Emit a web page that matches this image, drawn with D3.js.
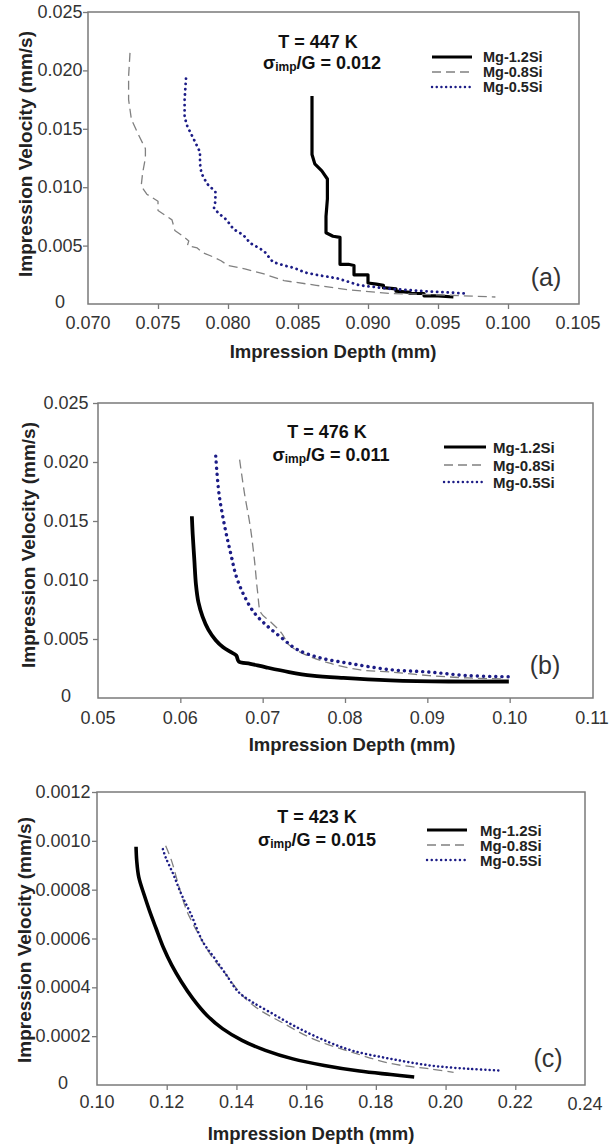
<!DOCTYPE html>
<html><head><meta charset="utf-8">
<script src="https://cdn.jsdelivr.net/npm/d3@7"></script>
<style>
html,body{margin:0;padding:0;background:#fff;}
text{font-family:"Liberation Sans",Arial,sans-serif;}
</style></head>
<body><svg id="chart" width="613" height="1144"></svg>
<script>
// ---------- DATA ----------
const seriesNames = ["Mg-1.2Si", "Mg-0.8Si", "Mg-0.5Si"];

// Panel (a) T = 447 K
const aXTicks = [0.070, 0.075, 0.080, 0.085, 0.090, 0.095, 0.100, 0.105];
const aXTickLabels = ["0.070", "0.075", "0.080", "0.085", "0.090", "0.095", "0.100", "0.105"];
const aYTicks = [0, 0.005, 0.010, 0.015, 0.020, 0.025];
const aYTickLabels = ["0", "0.005", "0.010", "0.015", "0.020", "0.025"];
const aMg12 = [[0.0860,0.0178],[0.0860,0.0150],[0.0860,0.0128],[0.0862,0.0120],[0.0867,0.0114],[0.0871,0.0107],[0.0871,0.0090],[0.0870,0.0075],[0.0870,0.0061],[0.0875,0.0058],[0.0880,0.0057],[0.0880,0.0045],[0.0880,0.0034],[0.0886,0.0034],[0.0890,0.0033],[0.0890,0.0025],[0.0895,0.0025],[0.0900,0.0025],[0.0900,0.0018],[0.0906,0.0017],[0.0911,0.0016],[0.0911,0.0014],[0.0920,0.0013],[0.0920,0.0011],[0.0930,0.0010],[0.0930,0.0009],[0.0940,0.0009],[0.0940,0.0007],[0.0950,0.0007],[0.0961,0.0006]];
const aMg08 = [[0.0730,0.0215],[0.0729,0.0195],[0.0729,0.0175],[0.0731,0.0158],[0.0736,0.0145],[0.0741,0.0133],[0.0741,0.0125],[0.0739,0.0112],[0.0738,0.0101],[0.0742,0.0094],[0.0750,0.0088],[0.0750,0.0080],[0.0755,0.0076],[0.0760,0.0072],[0.0762,0.0063],[0.0768,0.0058],[0.0772,0.0054],[0.0771,0.0050],[0.0778,0.0048],[0.0782,0.0044],[0.0790,0.0040],[0.0795,0.0037],[0.0800,0.0033],[0.0812,0.0030],[0.0825,0.0026],[0.0840,0.0020],[0.0863,0.0016],[0.0887,0.0012],[0.0916,0.0009],[0.0947,0.0008],[0.0991,0.0006]];
const aMg05 = [[0.0770,0.0193],[0.0769,0.0175],[0.0769,0.0160],[0.0771,0.0152],[0.0776,0.0140],[0.0780,0.0130],[0.0780,0.0120],[0.0781,0.0112],[0.0785,0.0103],[0.0791,0.0096],[0.0791,0.0088],[0.0790,0.0082],[0.0793,0.0078],[0.0799,0.0072],[0.0804,0.0064],[0.0811,0.0059],[0.0816,0.0052],[0.0822,0.0048],[0.0826,0.0045],[0.0832,0.0036],[0.0840,0.0033],[0.0847,0.0031],[0.0855,0.0027],[0.0863,0.0025],[0.0878,0.0022],[0.0894,0.0016],[0.0916,0.0013],[0.0940,0.0011],[0.0970,0.0009]];

// Panel (b) T = 476 K
const bXTicks = [0.05, 0.06, 0.07, 0.08, 0.09, 0.10, 0.11];
const bXTickLabels = ["0.05", "0.06", "0.07", "0.08", "0.09", "0.10", "0.11"];
const bYTicks = [0, 0.005, 0.010, 0.015, 0.020, 0.025];
const bYTickLabels = ["0", "0.005", "0.010", "0.015", "0.020", "0.025"];
const bMg12 = [[0.0614,0.0154],[0.0615,0.0139],[0.0617,0.0117],[0.0619,0.0096],[0.0622,0.0081],[0.0627,0.0069],[0.0634,0.0058],[0.0643,0.0049],[0.0652,0.0043],[0.0661,0.0039],[0.0668,0.0036],[0.0671,0.0031],[0.0685,0.0029],[0.0704,0.0026],[0.0732,0.0022],[0.0760,0.0019],[0.0798,0.0017],[0.0855,0.0015],[0.0926,0.0014],[0.0999,0.0014]];
const bMg08 = [[0.0672,0.0202],[0.0678,0.0173],[0.0685,0.0145],[0.0690,0.0117],[0.0694,0.0089],[0.0698,0.0072],[0.0709,0.0065],[0.0723,0.0055],[0.0732,0.0045],[0.0751,0.0037],[0.0779,0.0030],[0.0817,0.0024],[0.0855,0.0022],[0.0902,0.0019],[0.0949,0.0017],[0.0996,0.0016]];
const bMg05 = [[0.0643,0.0205],[0.0647,0.0173],[0.0654,0.0145],[0.0661,0.0123],[0.0668,0.0103],[0.0678,0.0086],[0.0690,0.0072],[0.0704,0.0062],[0.0723,0.0051],[0.0742,0.0041],[0.0770,0.0034],[0.0808,0.0029],[0.0855,0.0024],[0.0902,0.0022],[0.0949,0.0019],[0.1001,0.0018]];

// Panel (c) T = 423 K
const cXTicks = [0.10, 0.12, 0.14, 0.16, 0.18, 0.20, 0.22, 0.24];
const cXTickLabels = ["0.10", "0.12", "0.14", "0.16", "0.18", "0.20", "0.22", "0.24"];
const cYTicks = [0, 0.0002, 0.0004, 0.0006, 0.0008, 0.0010, 0.0012];
const cYTickLabels = ["0", "0.0002", "0.0004", "0.0006", "0.0008", "0.0010", "0.0012"];
const cMg12 = [[0.1112,0.000976],[0.1114,0.000918],[0.1120,0.00085],[0.1135,0.00078],[0.1151,0.000712],[0.1169,0.000643],[0.1191,0.000561],[0.1214,0.000492],[0.1242,0.000423],[0.1275,0.000354],[0.1315,0.000286],[0.1360,0.000231],[0.1416,0.000183],[0.1483,0.000142],[0.1562,0.000107],[0.1652,0.00008],[0.1753,0.000057],[0.1843,0.000043],[0.1910,0.000033]];
const cMg08 = [[0.1197,0.00098],[0.1214,0.000918],[0.1236,0.000808],[0.1258,0.000712],[0.1292,0.000616],[0.1326,0.000533],[0.1371,0.000451],[0.1416,0.000368],[0.1461,0.000313],[0.1528,0.000258],[0.1618,0.00019],[0.1730,0.000135],[0.1843,0.000088],[0.1955,0.000066],[0.2023,0.000052]];
const cMg05 = [[0.1189,0.000966],[0.1197,0.000932],[0.1219,0.000863],[0.1242,0.000781],[0.1270,0.000698],[0.1303,0.000588],[0.1337,0.00052],[0.1371,0.000451],[0.1405,0.000382],[0.1444,0.000341],[0.1494,0.0003],[0.1562,0.000245],[0.1641,0.00019],[0.1730,0.000142],[0.1843,0.000107],[0.1955,0.00008],[0.2067,0.000066],[0.2163,0.000059]];

// ---------- DRAWING ----------
const svg = d3.select("#chart");
svg.append("rect").attr("width",613).attr("height",1144).attr("fill","#fff");

const styles = [
  {stroke:"#000", width:3.2, dash:null, cap:"butt"},
  {stroke:"#808080", width:1.3, dash:"9,5", cap:"butt"},
  {stroke:"#1c1c86", width:2.8, dash:"0.1,5.2", cap:"round"}
];

function drawPanel(p){
  const g = svg.append("g");
  const x = d3.scaleLinear().domain(p.xDomain).range([p.left, p.right]);
  const y = d3.scaleLinear().domain(p.yDomain).range([p.bottom, p.top]);

  g.append("rect").attr("x",p.left).attr("y",p.top)
    .attr("width",p.boxRight-p.left).attr("height",p.bottom-p.top)
    .attr("fill","none").attr("stroke","#7a7a7a").attr("stroke-width",1.5);

  const xAxis = d3.axisBottom(x).tickValues(p.xTicks.filter(t=>x(t) < p.boxRight-2 && t!==p.xDomain[0])).tickSize(5).tickFormat("");
  const gx = g.append("g").attr("transform",`translate(0,${p.bottom})`).call(xAxis);
  gx.select(".domain").remove();
  gx.selectAll("line").attr("stroke","#7a7a7a").attr("stroke-width",1.3);
  const yAxis = d3.axisLeft(y).tickValues(p.yTicks.filter(t=>t!==0)).tickSize(5).tickFormat("");
  const gy = g.append("g").attr("transform",`translate(${p.left},0)`).call(yAxis);
  gy.select(".domain").remove();
  gy.selectAll("line").attr("stroke","#7a7a7a").attr("stroke-width",1.3);

  g.selectAll(".xl").data(p.xTicks).enter().append("text")
    .attr("x",(d)=>Math.min(x(d), p.boxRight+3)).attr("y",(d)=>p.bottom+p.xLabDy+(x(d)>p.boxRight-2 && p.lastLow ? 2:0))
    .attr("text-anchor","middle").attr("dominant-baseline","central")
    .attr("font-size",18).attr("fill","#333").text((d,i)=>p.xTickLabels[i]);
  g.selectAll(".yl").data(p.yTicks).enter().append("text")
    .attr("x",p.yLabX).attr("y",(d)=>y(d)-(d===0?2:0))
    .attr("text-anchor","middle").attr("dominant-baseline","central")
    .attr("font-size",18).attr("fill","#333").text((d,i)=>p.yTickLabels[i]);

  g.append("text").attr("x",p.xTitle[0]).attr("y",p.xTitle[1])
    .attr("text-anchor","middle").attr("dominant-baseline","central")
    .attr("font-size",18.5).attr("font-weight","bold").attr("fill","#222").text("Impression Depth (mm)");
  g.append("text").attr("transform",`translate(${p.yTitle[0]},${p.yTitle[1]}) rotate(-90)`)
    .attr("text-anchor","middle").attr("dominant-baseline","central")
    .attr("font-size",19).attr("font-weight","bold").attr("fill","#222").text("Impression Velocity (mm/s)");

  const line = d3.line().x(d=>x(d[0])).y(d=>y(d[1])).curve(p.curve);
  p.series.forEach((s,i)=>{
    const st = styles[i];
    g.append("path").datum(s).attr("d",line).attr("fill","none")
      .attr("stroke",st.stroke).attr("stroke-width",(i===2?p.dotW:(i===0?p.blackW:st.width)))
      .attr("stroke-dasharray",(i===2?p.dotDash:st.dash)).attr("stroke-linecap",st.cap)
      .attr("stroke-linejoin","round");
  });

  seriesNames.forEach((n,i)=>{
    const st = styles[i];
    const yy = p.legendY[i];
    g.append("line").attr("x1",p.legendX[0]).attr("x2",p.legendX[1]).attr("y1",yy).attr("y2",yy)
      .attr("stroke",st.stroke).attr("stroke-width",i===0?3.2:(i===2?2.4:1.3))
      .attr("stroke-dasharray",i===2?"0.1,4.6":st.dash).attr("stroke-linecap",st.cap);
    g.append("text").attr("x",p.legendX[2]).attr("y",yy).attr("dominant-baseline","central")
      .attr("font-size",p.legendFont).attr("font-weight","bold").attr("fill","#222").text(n);
  });

  g.append("text").attr("x",p.ann1[0]).attr("y",p.ann1[1]).attr("text-anchor","middle")
    .attr("dominant-baseline","central").attr("font-size",18).attr("font-weight","bold").attr("fill","#111")
    .text(p.temp);
  const t2 = g.append("text").attr("x",p.ann2[0]).attr("y",p.ann2[1]).attr("text-anchor","middle")
    .attr("dominant-baseline","central").attr("font-size",18).attr("font-weight","bold").attr("fill","#111");
  t2.append("tspan").text("σ");
  t2.append("tspan").attr("font-size",12).attr("dy",4).text("imp");
  t2.append("tspan").attr("dy",-4).text("/G = " + p.ratio);

  g.append("text").attr("x",p.letter[0]).attr("y",p.letter[1]).attr("text-anchor","middle")
    .attr("dominant-baseline","central").attr("font-size",25).attr("fill","#333").text(p.letterText);
}

drawPanel({
  xDomain:[0.070,0.105], yDomain:[0,0.025], left:88, right:578, boxRight:579, top:12, bottom:304,
  xTicks:aXTicks, xTickLabels:aXTickLabels, yTicks:aYTicks, yTickLabels:aYTickLabels,
  xLabDy:19, yLabX:60, lastLow:false,
  xTitle:[333,351], yTitle:[25,154],
  series:[aMg12,aMg08,aMg05], curve:d3.curveLinear, blackW:3.2, dotW:2.8, dotDash:"0.1,5.2",
  legendX:[432,472,483], legendY:[57,72,87], legendFont:14.5,
  temp:"T = 447 K", ratio:"0.012", ann1:[318,42], ann2:[322,63],
  letter:[546,277], letterText:"(a)"
});
drawPanel({
  xDomain:[0.05,0.11], yDomain:[0,0.025], left:98, right:592, boxRight:593, top:403, bottom:698,
  xTicks:bXTicks, xTickLabels:bXTickLabels, yTicks:bYTicks, yTickLabels:bYTickLabels,
  xLabDy:20, yLabX:66, lastLow:false,
  xTitle:[352,744], yTitle:[28,545],
  series:[bMg12,bMg08,bMg05], curve:d3.curveCatmullRom, blackW:3.8, dotW:3.4, dotDash:"0.1,6",
  legendX:[444,486,493], legendY:[447,465,482], legendFont:15,
  temp:"T = 476 K", ratio:"0.011", ann1:[327,432], ann2:[331,455],
  letter:[545,665], letterText:"(b)"
});
drawPanel({
  xDomain:[0.10,0.24], yDomain:[0,0.0012], left:97, right:585, boxRight:585, top:792, bottom:1085,
  xTicks:cXTicks, xTickLabels:cXTickLabels, yTicks:cYTicks, yTickLabels:cYTickLabels,
  xLabDy:17, yLabX:63, lastLow:true,
  xTitle:[311,1133], yTitle:[24,940],
  series:[cMg12,cMg08,cMg05], curve:d3.curveCatmullRom, blackW:3.6, dotW:2.5, dotDash:"0.1,4.2",
  legendX:[427,467,480], legendY:[830,845,860], legendFont:15,
  temp:"T = 423 K", ratio:"0.015", ann1:[317,817], ann2:[317,840],
  letter:[548,1058], letterText:"(c)"
});
</script></body></html>
